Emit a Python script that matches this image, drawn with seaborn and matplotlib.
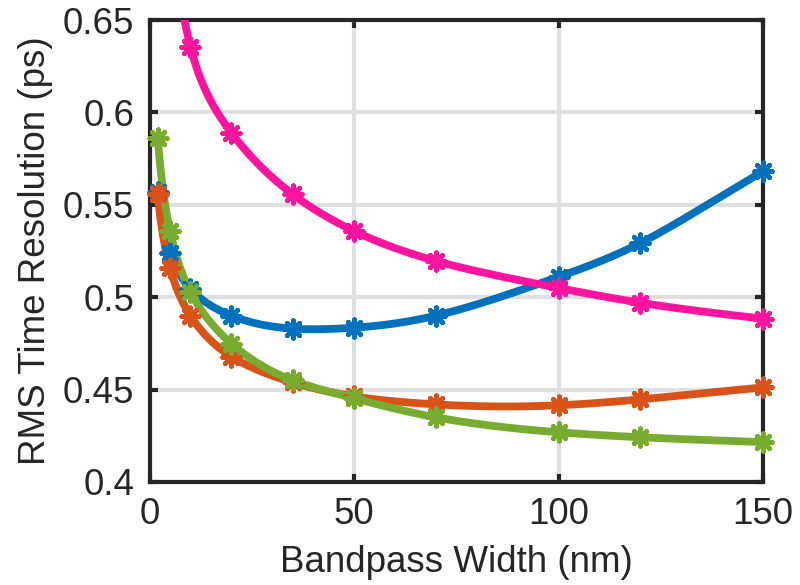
import numpy as np
import pandas as pd
import matplotlib
matplotlib.use("Agg")
import matplotlib.pyplot as plt
import seaborn as sns

# Bandpass widths (nm) at which the time resolution was evaluated
bandpass_nm = [2, 5, 10, 20, 35, 50, 70, 100, 120, 150]
bandpass_nm_pink = [5, 10, 20, 35, 50, 70, 100, 120, 150]

# RMS time resolution (ps) for each configuration
res_blue = [0.557, 0.524, 0.5045, 0.490, 0.483, 0.4835, 0.490, 0.511, 0.5293, 0.5681]
res_orange = [0.5557, 0.5158, 0.490, 0.4679, 0.4539, 0.4463, 0.442, 0.4415, 0.4447, 0.4512]
res_green = [0.5864, 0.5358, 0.5029, 0.4749, 0.455, 0.4453, 0.435, 0.4269, 0.4242, 0.4216]
res_pink = [0.71, 0.6355, 0.589, 0.5557, 0.5358, 0.5196, 0.505, 0.497, 0.4884]

series = {
    "blue": (bandpass_nm, res_blue),
    "orange": (bandpass_nm, res_orange),
    "green": (bandpass_nm, res_green),
    "pink": (bandpass_nm_pink, res_pink),
}
colors = {
    "blue": "#0072BD",
    "orange": "#D95319",
    "green": "#77AC30",
    "pink": "#FF149F",
}

x_ticks = [0, 50, 100, 150]
y_ticks = [0.4, 0.45, 0.5, 0.55, 0.6, 0.65]
y_tick_labels = ["0.4", "0.45", "0.5", "0.55", "0.6", "0.65"]


def natural_spline(x, y, xs):
    """Natural cubic spline through (x, y), evaluated at xs."""
    x = np.asarray(x, float)
    y = np.asarray(y, float)
    n = len(x)
    h = np.diff(x)
    A = np.zeros((n, n))
    b = np.zeros(n)
    A[0, 0] = A[-1, -1] = 1.0
    for i in range(1, n - 1):
        A[i, i - 1] = h[i - 1]
        A[i, i] = 2 * (h[i - 1] + h[i])
        A[i, i + 1] = h[i]
        b[i] = 6 * ((y[i + 1] - y[i]) / h[i] - (y[i] - y[i - 1]) / h[i - 1])
    M = np.linalg.solve(A, b)
    idx = np.clip(np.searchsorted(x, xs) - 1, 0, n - 2)
    x0, x1 = x[idx], x[idx + 1]
    hh = x1 - x0
    t0 = x1 - xs
    t1 = xs - x0
    return (M[idx] * t0 ** 3 / (6 * hh) + M[idx + 1] * t1 ** 3 / (6 * hh)
            + (y[idx] / hh - M[idx] * hh / 6) * t0
            + (y[idx + 1] / hh - M[idx + 1] * hh / 6) * t1)


def smooth_curve(xs, values, n=800):
    """Smooth curve through the samples, splined over log bandpass width."""
    lx = np.log(np.asarray(xs, float))
    l_dense = np.linspace(lx[0], lx[-1], n)
    return pd.DataFrame({"x": np.exp(l_dense),
                         "y": natural_spline(lx, values, l_dense)})


sns.set_theme(style="white")
plt.rcParams["font.family"] = ["Liberation Sans", "DejaVu Sans"]
FS = 26.5
plt.rcParams["font.size"] = FS

fig = plt.figure(figsize=(8, 5.85), dpi=100)
ax = fig.add_axes([0.1869, 0.1761, 0.7669, 0.7897])

for name, (xs, values) in series.items():
    curve = smooth_curve(xs, values)
    sns.lineplot(data=curve, x="x", y="y", ax=ax, color=colors[name],
                 linewidth=5.6, solid_capstyle="round", zorder=3, sort=False)
    pts = pd.DataFrame({"x": xs, "y": values})
    pts = pts[pts["y"] <= 0.65]
    sns.scatterplot(data=pts, x="x", y="y", ax=ax, marker=(8, 2, 0),
                    s=160, linewidth=3.4, color=colors[name],
                    edgecolor=colors[name], zorder=4, clip_on=False)

ax.set_xlim(0, 150)
ax.set_ylim(0.4, 0.65)
ax.set_xticks(x_ticks)
ax.set_xticklabels([str(v) for v in x_ticks])
ax.set_yticks(y_ticks)
ax.set_yticklabels(y_tick_labels)

ax.grid(True, color="#E0E0E0", linewidth=3)
ax.set_axisbelow(True)
for side in ["left", "right", "top", "bottom"]:
    ax.spines[side].set_visible(True)
    ax.spines[side].set_color("#262626")
    ax.spines[side].set_linewidth(3)
ax.tick_params(axis="both", which="both", direction="in", length=6, width=3,
               color="#262626", labelcolor="#262626", labelsize=FS,
               pad=11, top=True, right=True, bottom=True, left=True)

ax.set_xlabel("Bandpass Width (nm)", fontsize=FS, color="#262626", labelpad=9)
ax.set_ylabel("RMS Time Resolution (ps)", fontsize=FS, color="#262626",
              labelpad=7)

fig.savefig("out.png", dpi=100)
